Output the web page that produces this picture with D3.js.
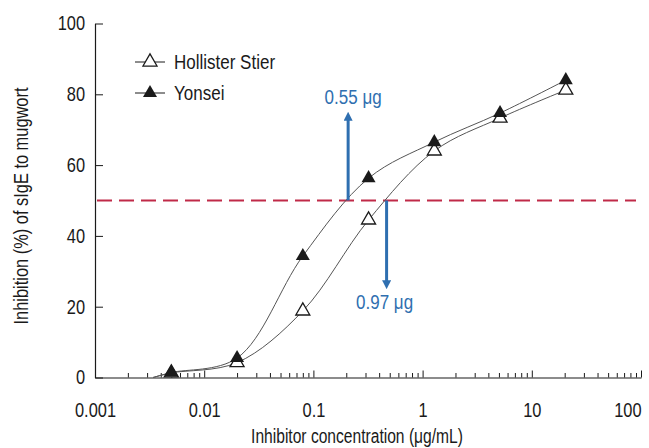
<!DOCTYPE html>
<html>
<head>
<meta charset="utf-8">
<script src="https://cdn.jsdelivr.net/npm/d3@7"></script>
<style>
  body { margin: 0; background: #fff; }
  svg { font-family: "Liberation Sans", Arial, sans-serif; }
</style>
</head>
<body>
<div id="chart"></div>
<script>
// Inhibitor concentrations (4-fold dilutions, ug/mL)
let concentrations = [0.005, 0.02, 0.08, 0.32, 1.28, 5.12, 20.48];

// Inhibition (%)
let hollisterValues = [1.3, 4.2, 18.8, 44.5, 64.0, 73.3, 81.2];
let yonseiValues = [1.4, 5.5, 34.3, 56.3, 66.5, 74.7, 84.0];

// where the fitted curves leave the x axis
let curveStartConc = 0.0034;

// 50% inhibition points
let halfLevel = 50;
let halfConc = [0.208, 0.468];      // Yonsei, Hollister Stier
let halfArrowEnd = [75, 25];
let halfLabels = ['0.55 \u03bcg', '0.97 \u03bcg'];

// Axis ticks
let xTickValues = [0.001, 0.01, 0.1, 1, 10, 100];
let xTickLabels = ['0.001', '0.01', '0.1', '1', '10', '100'];
let yTickValues = [0, 20, 40, 60, 80, 100];

let legendNames = ['Hollister Stier', 'Yonsei'];

let svgWidth = 649,
    svgHeight = 448;

let blue = '#2f6fb0',
    red = '#c02a48',
    ink = '#1a1a1a';

let svg = d3.select('#chart')
    .append('svg')
    .attr('width', svgWidth)
    .attr('height', svgHeight);

// the figure uses a condensed face, squeeze the text instead
function narrow(sel, k) {
    k = k || 0.82;
    sel.each(function () {
        let w = this.getComputedTextLength();
        d3.select(this)
            .attr('textLength', w * k)
            .attr('lengthAdjust', 'spacingAndGlyphs');
    });
}

let x = d3.scaleLog()
    .domain([0.001, 100])
    .range([95, 641]);

let y = d3.scaleLinear()
    .domain([0, 100])
    .range([377.5, 23.5]);

// minor ticks on x
let minorTicks = x.ticks().filter(t => xTickValues.indexOf(t) < 0);

svg.append('g')
    .attr('transform', `translate(0, ${y(0)})`)
    .call(d3.axisBottom(x).tickValues(minorTicks).tickSize(-4.5).tickSizeOuter(0).tickFormat(''))
    .call(g => g.select('.domain').remove())
    .selectAll('line').attr('stroke', ink);

let xAxis = svg.append('g')
    .attr('transform', `translate(0, ${y(0)})`)
    .call(d3.axisBottom(x)
        .tickValues(xTickValues)
        .tickSize(-7)
        .tickSizeOuter(0)
        .tickPadding(25)
        .tickFormat((d, i) => xTickLabels[i]));

xAxis.attr('font-family', null).attr('font-size', null);
xAxis.select('.domain').attr('stroke', ink).attr('stroke-width', 1.2);
xAxis.selectAll('line').attr('stroke', ink);
xAxis.selectAll('text')
    .style('font-size', '20px')
    .attr('fill', ink)
    .call(narrow);

// last label sits inside the right edge
xAxis.selectAll('text')
    .filter((d, i) => i === xTickLabels.length - 1)
    .attr('text-anchor', 'end')
    .attr('dx', 0);

let yAxis = svg.append('g')
    .attr('transform', `translate(${x(0.001)}, 0)`)
    .call(d3.axisLeft(y)
        .tickValues(yTickValues)
        .tickSize(-8)
        .tickSizeOuter(0)
        .tickPadding(10));

yAxis.attr('font-family', null).attr('font-size', null);
yAxis.select('.domain').attr('stroke', ink).attr('stroke-width', 1.2);
yAxis.selectAll('line').attr('stroke', ink);
yAxis.selectAll('text')
    .style('font-size', '20px')
    .attr('fill', ink)
    .call(narrow);

// axis titles
svg.append('text')
    .attr('x', 357)
    .attr('y', 443)
    .attr('text-anchor', 'middle')
    .style('font-size', '20px')
    .attr('fill', ink)
    .text('Inhibitor concentration (\u03bcg/mL)')
    .call(narrow, 0.78);

svg.append('text')
    .attr('transform', 'translate(28, 206) rotate(-90)')
    .attr('text-anchor', 'middle')
    .style('font-size', '20px')
    .attr('fill', ink)
    .text('Inhibition (%) of sIgE to mugwort')
    .call(narrow);

// 50% dashed line
svg.append('line')
    .attr('x1', x(0.001) + 2)
    .attr('x2', 636)
    .attr('y1', y(halfLevel))
    .attr('y2', y(halfLevel))
    .attr('stroke', red)
    .attr('stroke-width', 2)
    .attr('stroke-dasharray', '15,7');

// fitted curves
let line = d3.line()
    .x(d => x(d[0]))
    .y(d => y(d[1]))
    .curve(d3.curveCatmullRom.alpha(0.5));

[hollisterValues, yonseiValues].forEach(values => {
    let pts = [[curveStartConc, 0]].concat(concentrations.map((c, i) => [c, values[i]]));
    svg.append('path')
        .attr('d', line(pts))
        .attr('fill', 'none')
        .attr('stroke', '#555')
        .attr('stroke-width', 1);
});

// arrows at the 50% points
let arrowDefs = svg.append('defs');
arrowDefs.append('marker')
    .attr('id', 'arrowhead')
    .attr('viewBox', '0 0 10 10')
    .attr('refX', 2)
    .attr('refY', 5)
    .attr('markerWidth', 3)
    .attr('markerHeight', 3)
    .attr('orient', 'auto')
    .append('path')
    .attr('d', 'M0,0 L10,5 L0,10 Z')
    .attr('fill', blue);

halfConc.forEach((c, i) => {
    let tipY = y(halfArrowEnd[i]);
    let dir = halfArrowEnd[i] > halfLevel ? 1 : -1;
    svg.append('line')
        .attr('x1', x(c))
        .attr('x2', x(c))
        .attr('y1', y(halfLevel))
        .attr('y2', tipY + dir * 7)
        .attr('stroke', blue)
        .attr('stroke-width', 3)
        .attr('marker-end', 'url(#arrowhead)');

    svg.append('text')
        .attr('x', x(c) + (dir > 0 ? 5 : -2))
        .attr('y', dir > 0 ? tipY - 8 : tipY + 20)
        .attr('text-anchor', 'middle')
        .style('font-size', '20px')
        .attr('fill', blue)
        .text(halfLabels[i])
        .call(narrow, 0.85);
});

// markers: open triangles first, filled on top
let triangle = d3.symbol().type(d3.symbolTriangle).size(85);

svg.append('g')
    .selectAll('path')
    .data(concentrations)
    .enter()
    .append('path')
    .attr('d', triangle)
    .attr('transform', (d, i) => `translate(${x(d)}, ${y(hollisterValues[i])})`)
    .attr('fill', 'white')
    .attr('stroke', ink)
    .attr('stroke-width', 1.3);

svg.append('g')
    .selectAll('path')
    .data(concentrations)
    .enter()
    .append('path')
    .attr('d', triangle)
    .attr('transform', (d, i) => `translate(${x(d)}, ${y(yonseiValues[i])})`)
    .attr('fill', ink);

// legend
let legend = svg.append('g')
    .selectAll('g')
    .data(legendNames)
    .enter()
    .append('g')
    .attr('transform', (d, i) => `translate(150, ${62 + i * 31})`);

legend.append('line')
    .attr('x1', -15)
    .attr('x2', 15)
    .attr('stroke', ink)
    .attr('stroke-width', 1);

legend.append('path')
    .attr('d', triangle)
    .attr('fill', (d, i) => i === 0 ? 'white' : ink)
    .attr('stroke', ink)
    .attr('stroke-width', (d, i) => i === 0 ? 1.3 : 0);

legend.append('text')
    .attr('x', 24)
    .attr('y', 7)
    .style('font-size', '20px')
    .attr('fill', ink)
    .text(d => d)
    .call(narrow, 0.85);
</script>
</body>
</html>
